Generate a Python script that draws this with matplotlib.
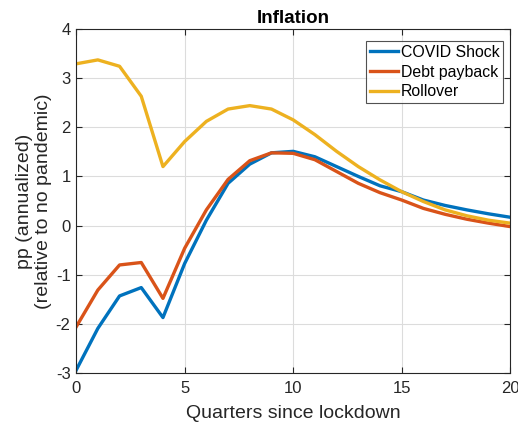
import numpy as np
import matplotlib
matplotlib.use("Agg")
import matplotlib.pyplot as plt

plt.rcParams['font.family'] = ['Liberation Sans', 'DejaVu Sans']
plt.rcParams['axes.unicode_minus'] = False

quarters = np.arange(0, 21)
covid_shock = [-2.94, -2.09, -1.43, -1.26, -1.87, -0.77, 0.11, 0.86, 1.25, 1.48, 1.51,
               1.40, 1.20, 1.00, 0.81, 0.69, 0.52, 0.41, 0.32, 0.24, 0.17]
debt_payback = [-2.06, -1.31, -0.80, -0.75, -1.48, -0.46, 0.32, 0.94, 1.32, 1.48, 1.47,
                1.34, 1.10, 0.86, 0.67, 0.52, 0.35, 0.23, 0.13, 0.05, -0.02]
rollover = [3.29, 3.37, 3.24, 2.63, 1.20, 1.71, 2.12, 2.37, 2.44, 2.37, 2.15,
            1.85, 1.51, 1.20, 0.93, 0.69, 0.49, 0.32, 0.20, 0.11, 0.05]

fig = plt.figure(figsize=(5.18, 4.25), dpi=100)
ax = fig.add_axes([0.147, 0.122, 0.838, 0.81])

ax.plot(quarters, covid_shock, color=(0, 0.447, 0.741), lw=2.4, label='COVID Shock')
ax.plot(quarters, debt_payback, color=(0.850, 0.325, 0.098), lw=2.4, label='Debt payback')
ax.plot(quarters, rollover, color=(0.929, 0.694, 0.125), lw=2.4, label='Rollover')

ax.set_xlim(0, 20)
ax.set_ylim(-3, 4)
ax.set_xticks([0, 5, 10, 15, 20])
ax.set_yticks(range(-3, 5))
ax.grid(True, color='#dcdcdc', lw=0.8)
ax.set_axisbelow(True)
ax.tick_params(direction='in', top=True, right=True, labelsize=12, colors='#262626', length=4)
ax.tick_params(axis='x', pad=6)
ax.tick_params(axis='y', pad=4)
for s in ax.spines.values():
    s.set_color('#262626')

ax.set_title('Inflation', fontsize=13.5, fontweight='bold', pad=4)
ax.set_xlabel('Quarters since lockdown', fontsize=14, color='#262626', labelpad=6)
ax.set_ylabel('pp (annualized)\n(relative to no pandemic)', fontsize=14, color='#262626',
              labelpad=3, linespacing=1.1)

leg = ax.legend(loc='upper right', bbox_to_anchor=(1 - 7 / 434, 1 - 12 / 344),
                borderaxespad=0, fontsize=11.4, frameon=True, fancybox=False,
                handlelength=1.8, handletextpad=0.15, borderpad=0.25, labelspacing=0.3)
leg.get_frame().set_edgecolor('#262626')
leg.get_frame().set_linewidth(0.8)

fig.savefig('out.png', dpi=100)
